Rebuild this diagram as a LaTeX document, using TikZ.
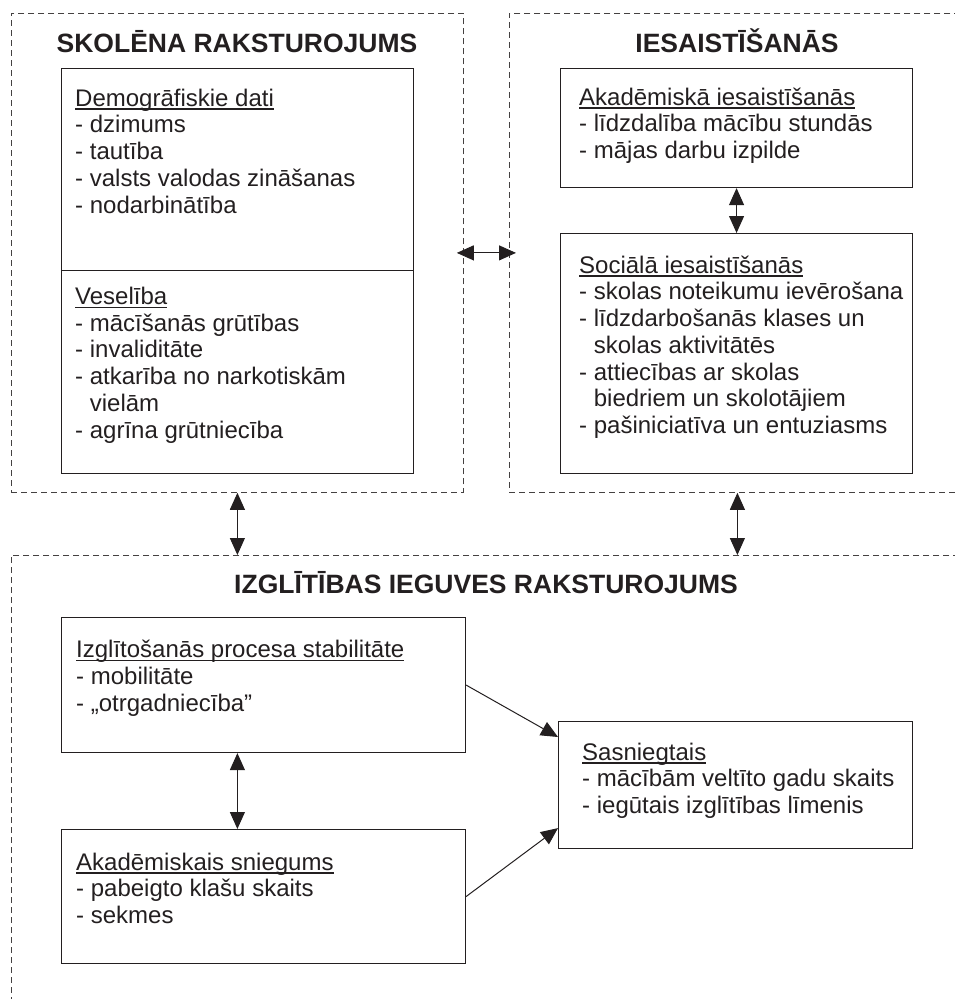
\documentclass[tikz,border=0pt]{standalone}
\usepackage{fontspec}
\setmainfont{Liberation Sans}
\usetikzlibrary{arrows.meta}
% heading underlined at a fixed depth below the baseline
\newcommand\ulhead[1]{\setbox0\hbox{#1}\rlap{\vrule width\wd0 height-2.3pt depth3.6pt}\box0}
% hanging indent for a wrapped list item
\newcommand\cont{\hphantom{-}\ }
\definecolor{ink}{HTML}{231F20}
\begin{document}
\begin{tikzpicture}[x=1pt,y=-1pt,
  dashbox/.style={draw=ink!85, line width=0.8pt, dash pattern=on 6pt off 4pt,
    inner sep=0pt, anchor=north west},
  box/.style={draw=ink, line width=1.1pt, inner sep=0pt, anchor=north west},
  % multi-line text: placed by the baseline of its last line
  txt/.style={anchor=base west, align=left, inner sep=0pt, text=ink,
    font=\fontsize{24}{26.75}\selectfont},
  ttl/.style={anchor=base, inner sep=0pt, text=ink,
    font=\fontsize{26.5}{30}\selectfont\bfseries},
  tip/.tip={Triangle[length=17pt,width=15pt]},
  dbl/.style={tip-tip, line width=1pt, draw=ink},
  one/.style={-tip, line width=1pt, draw=ink}]
\useasboundingbox (0,0) rectangle (955,999);
\clip (0,0) rectangle (955,999);

% three dashed groups
\node[dashbox, minimum width=452pt, minimum height=479pt] (sk) at (11,13) {};
\node[dashbox, minimum width=456pt, minimum height=479pt] (ies) at (509,13) {};
\node[dashbox, minimum width=954pt, minimum height=460pt] (izg) at (11,555) {};

\node[ttl] (skt) at (237,52) {SKOLĒNA RAKSTUROJUMS};
\node[ttl] (iest) at (737,52) {IESAISTĪŠANĀS};
\node[ttl] (izgt) at (486,593) {IZGLĪTĪBAS IEGUVES RAKSTUROJUMS};

% student profile
\node[box, minimum width=352pt, minimum height=202pt] (demo) at (61,68) {};
\node[box, minimum width=352pt, minimum height=203pt] (ves) at (61,270) {};
\node[txt] (demot) at (75,213) {\ulhead{Demogrāfiskie dati}\\- dzimums\\- tautība\\- valsts valodas zināšanas\\- nodarbinātība};
\node[txt] (vest) at (75,438) {\ulhead{Veselība}\\- mācīšanās grūtības\\- invaliditāte\\- atkarība no narkotiskām\\\cont vielām\\- agrīna grūtniecība};

% engagement
\node[box, minimum width=352pt, minimum height=119pt] (ak) at (560,68) {};
\node[box, minimum width=352pt, minimum height=240pt] (soc) at (560,233) {};
\node[txt] (akt) at (579,158.5) {\ulhead{Akadēmiskā iesaistīšanās}\\- līdzdalība mācību stundās\\- mājas darbu izpilde};
\node[txt] (soct) at (579,433.5) {\ulhead{Sociālā iesaistīšanās}\\- skolas noteikumu ievērošana\\- līdzdarbošanās klases un\\\cont skolas aktivitātēs\\- attiecības ar skolas\\\cont biedriem un skolotājiem\\- pašiniciatīva un entuziasms};

% educational path
\node[box, minimum width=404pt, minimum height=135pt] (stab) at (61,617) {};
\node[box, minimum width=404pt, minimum height=134pt] (sn) at (61,829) {};
\node[box, minimum width=354pt, minimum height=127pt] (sas) at (558,721) {};
\node[txt] (stabt) at (76,711) {\ulhead{Izglītošanās procesa stabilitāte}\\- mobilitāte\\- „otrgadniecība”};
\node[txt] (snt) at (76,923.5) {\ulhead{Akadēmiskais sniegums}\\- pabeigto klašu skaits\\- sekmes};
\node[txt] (sast) at (582,813.5) {\ulhead{Sasniegtais}\\- mācībām veltīto gadu skaits\\- iegūtais izglītības līmenis};

% connectors
\draw[dbl] ([xshift=-7pt]sk.east) -- ([xshift=7pt]ies.west);
\draw[dbl] (sk.south) -- (sk.south |- izg.north);
\draw[dbl] (ies.south) -- (ies.south |- izg.north);
\draw[dbl] (ak.south) -- (soc.north);
\draw[dbl] (sk.south |- stab.south) -- (sk.south |- sn.north);
\draw[one] (stab.east) -- ([yshift=-16pt]sas.north west);
\draw[one] (sn.east) -- ([yshift=21pt]sas.south west);
\end{tikzpicture}
\end{document}
